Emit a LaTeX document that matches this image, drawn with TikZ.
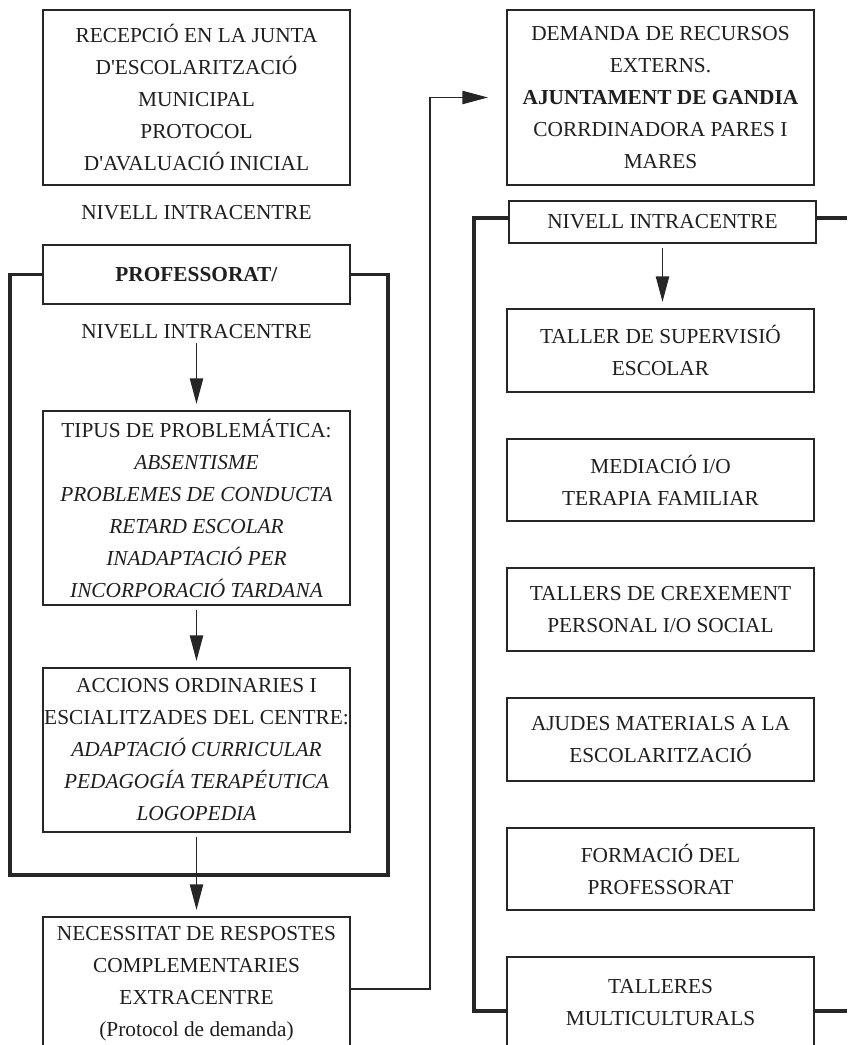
\documentclass[tikz,border=0pt]{standalone}
\usepackage{fontspec}
\setmainfont{Liberation Serif}[Ligatures=TeXOff]
\usetikzlibrary{arrows.meta}
\begin{document}
\begin{tikzpicture}[x=0.75pt,y=-0.75pt,
  txt/.style={font=\fontsize{16}{24}\selectfont, text=black!88, align=center, inner sep=0pt},
  boxn/.style={txt, draw=black!85, line width=0.8pt, minimum width={307*0.75pt}},
  conn/.style={draw=black!85, line width=0.8pt},
  arr/.style={conn, -{Triangle[length=19pt,width=10pt]}, shorten <=3pt, shorten >=5pt},
  frame/.style={draw=black!85, line width=2.6pt}]
\clip (0,0) rectangle (847,1045);
\fill[white] (0,0) rectangle (847,1045);

% left column
\node[boxn, minimum height={175*0.75pt}] (rec) at (196.5,97.5)
  {RECEPCIÓ EN LA JUNTA\\D'ESCOLARITZACIÓ\\MUNICIPAL\\PROTOCOL\\D'AVALUACIÓ INICIAL};
\node[txt] (nivA) at (196.5,213) {NIVELL INTRACENTRE};
\node[boxn, minimum height={59*0.75pt}] (prof) at (196.5,274.5) {\textbf{PROFESSORAT/}};
\node[txt] (nivB) at (196.5,332) {NIVELL INTRACENTRE};
\node[boxn, minimum height={194*0.75pt}] (tip) at (196.5,508)
  {TIPUS DE PROBLEMÁTICA:\\\textit{ABSENTISME}\\\textit{PROBLEMES DE CONDUCTA}\\\textit{RETARD ESCOLAR}\\\textit{INADAPTACIÓ PER}\\\textit{INCORPORACIÓ TARDANA}};
\node[boxn, minimum height={164*0.75pt}] (acc) at (196.5,750)
  {ACCIONS ORDINARIES I\\ESCIALITZADES DEL CENTRE:\\\textit{ADAPTACIÓ CURRICULAR}\\\textit{PEDAGOGÍA TERAPÉUTICA}\\\textit{LOGOPEDIA}};
\node[boxn, minimum height={133*0.75pt}] (nec) at (196.5,983.5)
  {NECESSITAT DE RESPOSTES\\COMPLEMENTARIES\\EXTRACENTRE\\(Protocol de demanda)};

\coordinate (lbl) at (10,875);
\coordinate (lbr) at (388,875);
\draw[frame] (prof.west) -| (lbl) -- (lbr) |- (prof.east);

\draw[arr] (nivB.south) -- (tip.north);
\draw[arr] (tip.south) -- (acc.north);
\draw[arr] (acc.south) -- (nec.north);

% right column
\node[boxn, minimum height={175*0.75pt}] (dem) at (660.5,97.5)
  {DEMANDA DE RECURSOS\\EXTERNS.\\\textbf{AJUNTAMENT DE GANDIA}\\CORRDINADORA PARES I\\MARES};
\node[boxn, minimum height={42*0.75pt}] (nivR) at (662.5,222) {NIVELL INTRACENTRE};
\node[boxn, minimum height={83*0.75pt}] (tal) at (660.5,350.5) {TALLER DE SUPERVISIÓ\\ESCOLAR};
\node[boxn, minimum height={82*0.75pt}] (med) at (660.5,480) {MEDIACIÓ I/O\\TERAPIA FAMILIAR};
\node[boxn, minimum height={83*0.75pt}] (cre) at (660.5,609.5) {TALLERS DE CREXEMENT\\PERSONAL I/O SOCIAL};
\node[boxn, minimum height={83*0.75pt}] (aju) at (660.5,739.5) {AJUDES MATERIALS A LA\\ESCOLARITZACIÓ};
\node[boxn, minimum height={82*0.75pt}] (for) at (660.5,869) {FORMACIÓ DEL\\PROFESSORAT};
\node[boxn, minimum height={91*0.75pt}] (mul) at (660.5,1002.5) {TALLERES\\MULTICULTURALS};

\coordinate (rtl) at (474,218);
\coordinate (rbl) at (474,1011);
\coordinate (rtr) at (847,218);
\coordinate (rbr) at (847,1011);
\draw[frame] (nivR.west |- rtl) -- (rtl) -- (rbl) -- (mul.west |- rbl);
\draw[frame] (nivR.east |- rtr) -- (rtr);
\draw[frame] (mul.east |- rbr) -- (rbr);

\draw[arr] (nivR.south) -- (nivR.south |- tal.north);

% link from left to right
\coordinate (lk) at (430,989);
\draw[conn, -{Triangle[length=19pt,width=10pt]}, shorten >=14pt] (nec.east |- lk) -- (lk) |- (dem.west);
\end{tikzpicture}
\end{document}
